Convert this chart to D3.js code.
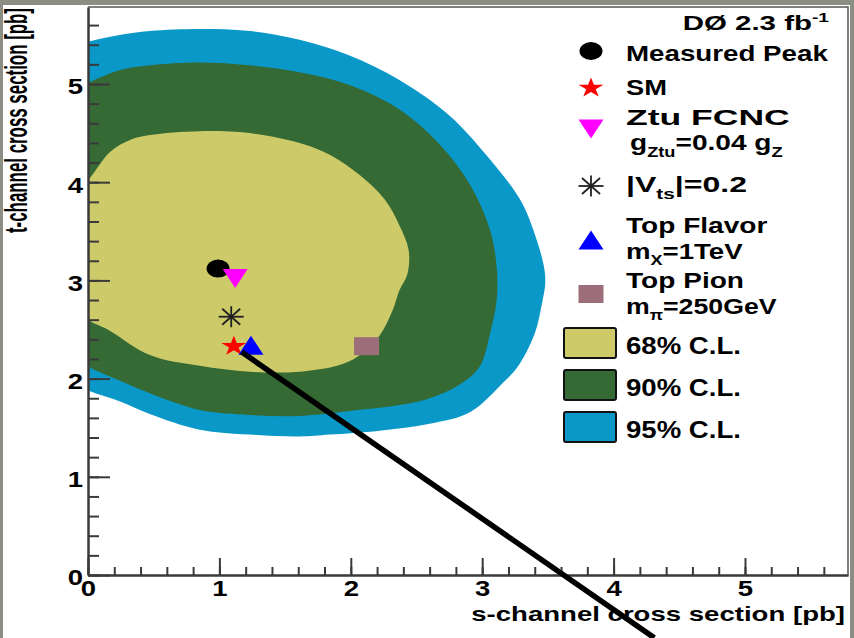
<!DOCTYPE html>
<html>
<head>
<meta charset="utf-8">
<script src="https://cdn.jsdelivr.net/npm/d3@7"></script>
<style>
  html, body { margin: 0; padding: 0; background: #8b8e82; }
  svg { display: block; }
  text { font-family: "Liberation Sans", Arial, Helvetica, sans-serif; font-weight: bold; fill: #000; }
</style>
</head>
<body>
<svg></svg>
<script>
// model points (s-channel, t-channel) in pb
const modelNames = ["Measured Peak", "SM", "Ztu FCNC", "|Vts|=0.2", "Top Flavor", "Top Pion"];
const sValues = [0.99, 1.11, 1.12, 1.09, 1.24, 2.12];
const tValues = [3.12, 2.34, 3.02, 2.63, 2.34, 2.33];

// confidence level contours, [s, t] pairs (the part left of s=0 is clipped)
const cl95 = [[-0.3, 5.30], [0, 5.43], [0.24, 5.50], [0.47, 5.54], [0.85, 5.56], [1.23, 5.54], [1.61, 5.45],
  [1.99, 5.29], [2.37, 5.04], [2.75, 4.68], [3.06, 4.23], [3.29, 3.82], [3.39, 3.51], [3.47, 3.14],
  [3.48, 2.97], [3.46, 2.80], [3.40, 2.46], [3.27, 2.12], [3.16, 1.96], [2.91, 1.66], [2.60, 1.54],
  [2.22, 1.47], [1.84, 1.43], [1.61, 1.41], [1.23, 1.43], [0.85, 1.48], [0.47, 1.64], [0.24, 1.77],
  [0, 1.88], [-0.3, 2.05], [-0.6, 3.7]];
const cl90 = [[-0.25, 4.83], [0, 5.01], [0.24, 5.14], [0.47, 5.19], [0.85, 5.22], [1.23, 5.19], [1.61, 5.12],
  [1.99, 4.99], [2.37, 4.74], [2.68, 4.38], [2.91, 3.97], [3.06, 3.51], [3.11, 3.14], [3.11, 2.80],
  [3.06, 2.46], [2.98, 2.12], [2.83, 1.94], [2.60, 1.80], [2.37, 1.73], [1.99, 1.67], [1.61, 1.62],
  [1.23, 1.63], [0.85, 1.68], [0.47, 1.85], [0.24, 1.98], [0, 2.12], [-0.25, 2.32], [-0.5, 3.6]];
const cl68 = [[-0.2, 3.75], [0, 4.02], [0.17, 4.31], [0.32, 4.43], [0.47, 4.48], [0.85, 4.52], [1.23, 4.50],
  [1.61, 4.40], [1.84, 4.28], [2.07, 4.07], [2.26, 3.82], [2.37, 3.56], [2.44, 3.31], [2.43, 3.06],
  [2.37, 2.90], [2.32, 2.70], [2.22, 2.44], [2.07, 2.24], [1.92, 2.14], [1.61, 2.07], [1.23, 2.07],
  [0.85, 2.13], [0.47, 2.24], [0.15, 2.50], [0, 2.60], [-0.2, 2.85], [-0.3, 3.3]];
const clNames = ["68% C.L.", "90% C.L.", "95% C.L."];

const tickLabels = [0, 1, 2, 3, 4, 5];
const axisMax = 5.784;

// the slide's pointer line, in data units
const pointerLine = [[1.17, 2.27], [4.31, -0.64]];

const markerTypes = ["circle", "star", "triangleDown", "asterisk", "triangleUp", "square"];
const markerColors = ["#000000", "#ff0000", "#ff00ff", "#222222", "#0000ff", "#9c6e7a"];
const clColors = ["#cdca69", "#356a35", "#0a98c8"];

const svg = d3.select("svg").attr("width", 854).attr("height", 638);

svg.append("rect").attr("x", 3).attr("y", 5).attr("width", 847).attr("height", 633).attr("fill", "#fff");

const x = d3.scaleLinear().domain([0, axisMax]).range([88, 848]);
const y = d3.scaleLinear().domain([0, axisMax]).range([575, 7]);

svg.append("clipPath").attr("id", "plot")
  .append("rect").attr("x", 88).attr("y", 7).attr("width", 760).attr("height", 568);

const contourLine = d3.line()
  .x(d => x(d[0]))
  .y(d => y(d[1]))
  .curve(d3.curveCatmullRomClosed.alpha(0.5));

const contours = svg.append("g").attr("clip-path", "url(#plot)");
[cl95, cl90, cl68].forEach((c, i) => {
  contours.append("path").attr("d", contourLine(c)).attr("fill", clColors[2 - i]);
});

function marker(g, type, cx, cy, color) {
  const m = g.append("g").attr("transform", `translate(${cx},${cy})`);
  if (type === "circle") {
    m.append("ellipse").attr("rx", 11.5).attr("ry", 9).attr("fill", color);
  } else if (type === "star") {
    const pts = d3.range(10).map(k => {
      const r = k % 2 ? 4 : 10.5;
      const a = -Math.PI / 2 + k * Math.PI / 5;
      return [1.25 * r * Math.cos(a), r * Math.sin(a) + 1];
    });
    m.append("polygon").attr("points", pts.join(" ")).attr("fill", color);
  } else if (type === "triangleDown") {
    m.append("polygon").attr("points", "-12.5,-9.5 12.5,-9.5 0,9.5").attr("fill", color);
  } else if (type === "triangleUp") {
    m.append("polygon").attr("points", "-12.5,9.5 12.5,9.5 0,-9.5").attr("fill", color);
  } else if (type === "square") {
    m.append("rect").attr("x", -12.5).attr("y", -9).attr("width", 25).attr("height", 18).attr("fill", color);
  } else if (type === "asterisk") {
    const segs = [[-12.5, 0, 12.5, 0], [0, -10.5, 0, 10.5], [-9, -8, 9, 8], [-9, 8, 9, -8]];
    segs.forEach(s => m.append("line")
      .attr("x1", s[0]).attr("y1", s[1]).attr("x2", s[2]).attr("y2", s[3])
      .attr("stroke", color).attr("stroke-width", 1.8));
    m.append("circle").attr("r", 2).attr("fill", color);
  }
}

const points = svg.append("g");
modelNames.forEach((n, i) => marker(points, markerTypes[i], x(sValues[i]), y(tValues[i]), markerColors[i]));

// axes, ticks point into the frame like ROOT
const axisColor = "#3a3a3a";
const minorTicks = d3.range(0, 5.7, 0.2);

const xMinor = svg.append("g").attr("transform", "translate(0,575)")
  .call(d3.axisBottom(x).tickValues(minorTicks).tickSize(-8).tickSizeOuter(0).tickFormat(""));
const xMajor = svg.append("g").attr("transform", "translate(0,575)")
  .call(d3.axisBottom(x).tickValues(tickLabels).tickSize(-17).tickSizeOuter(0).tickPadding(5).tickFormat(d3.format("d")));
const yMinor = svg.append("g").attr("transform", "translate(88,0)")
  .call(d3.axisLeft(y).tickValues(minorTicks).tickSize(-11).tickSizeOuter(0).tickFormat(""));
const yMajor = svg.append("g").attr("transform", "translate(88,0)")
  .call(d3.axisLeft(y).tickValues(tickLabels).tickSize(-22).tickSizeOuter(0).tickPadding(4).tickFormat(d3.format("d")));

[xMinor, xMajor, yMinor, yMajor].forEach(a => {
  a.selectAll("line").attr("stroke", axisColor).attr("stroke-width", 2);
  a.select(".domain").attr("stroke", axisColor).attr("stroke-width", 2);
  a.selectAll("text").attr("font-family", null).attr("font-size", 22).attr("fill", "#000");
});
xMajor.selectAll("text").attr("transform", "scale(1.25,1)");
yMajor.selectAll("text").attr("dy", "0.45em").attr("transform", "scale(1.25,1)");

// frame top and right
svg.append("path").attr("d", "M88,7H848V575").attr("fill", "none").attr("stroke", "#555").attr("stroke-width", 1.5);

// text helper: parts are [string, shift] (shift > 0 subscript, < 0 superscript), stretched to width w
function label(x0, y0, parts, size, w, anchor) {
  const g = svg.append("g");
  const t = g.append("text").attr("font-size", size).attr("text-anchor", anchor || "start");
  let cur = 0;
  parts.forEach(p => {
    const ts = t.append("tspan").text(p[0]).attr("dy", p[1] - cur);
    if (p[1] !== 0) ts.attr("font-size", size * 0.65);
    cur = p[1];
  });
  const bw = t.node().getBBox().width;
  g.attr("transform", `translate(${x0},${y0}) scale(${w / bw},1)`);
  return g;
}

// axis titles
label(845, 621, [["s-channel cross section [pb]", 0]], 20, 374, "end");
const yt = svg.append("g").attr("transform", "translate(27,8) scale(1.45,1) rotate(-90)");
const ytText = yt.append("text").attr("font-size", 21).attr("text-anchor", "end").text("t-channel cross section [pb]");
const ytw = ytText.node().getBBox().width;
ytText.attr("transform", `scale(${225 / ytw},1)`);

// legend
label(829, 30, [["DØ 2.3 fb", 0], ["-1", -8]], 21, 147, "end");
const legendX = 626;
label(legendX, 61, [["Measured Peak", 0]], 22, 203);
label(legendX, 95, [["SM", 0]], 22, 41);
label(legendX, 125, [["Ztu FCNC", 0]], 22, 164);
label(630, 150, [["g", 0], ["Ztu", 7], ["=0.04 g", 0], ["Z", 7]], 22, 153);
label(legendX, 192, [["|V", 0], ["ts", 7], ["|=0.2", 0]], 22, 121);
label(legendX, 233, [["Top Flavor", 0]], 22, 142);
label(legendX, 259, [["m", 0], ["X", 6], ["=1TeV", 0]], 22, 117);
label(legendX, 288, [["Top Pion", 0]], 22, 118);
label(legendX, 314, [["m", 0], ["π", 6], ["=250GeV", 0]], 22, 151);

const legendMarkerY = [51, 87, 129, 186, 240, 294];
const legend = svg.append("g");
modelNames.forEach((n, i) => marker(legend, markerTypes[i], 591, legendMarkerY[i], markerColors[i]));

const boxY = [328, 370, 412];
clNames.forEach((n, i) => {
  svg.append("rect").attr("x", 564).attr("y", boxY[i]).attr("width", 52).attr("height", 30)
    .attr("rx", 2).attr("fill", clColors[i]).attr("stroke", "#111").attr("stroke-width", 2);
  label(legendX, boxY[i] + 26, [[n, 0]], 23, 115);
});

// pointer line from the slide
svg.append("line")
  .attr("x1", x(pointerLine[0][0])).attr("y1", y(pointerLine[0][1]))
  .attr("x2", x(pointerLine[1][0])).attr("y2", y(pointerLine[1][1]))
  .attr("stroke", "#000").attr("stroke-width", 5.5);
</script>
</body>
</html>
